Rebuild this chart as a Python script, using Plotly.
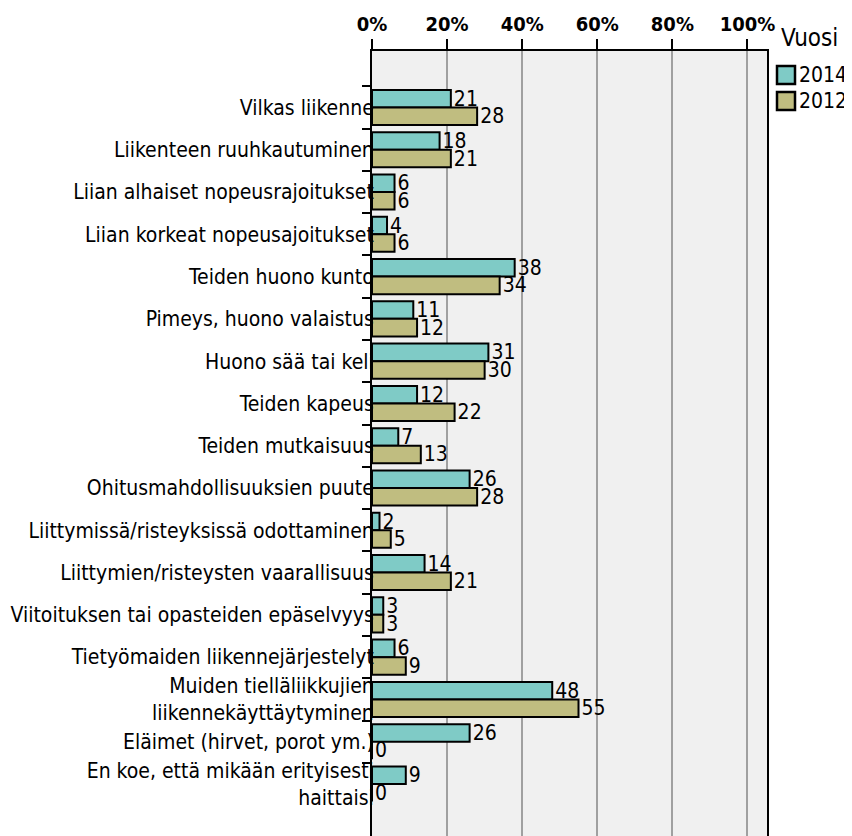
import plotly.graph_objects as go

categories = [
    "Vilkas liikenne",
    "Liikenteen ruuhkautuminen",
    "Liian alhaiset nopeusrajoitukset",
    "Liian korkeat nopeusajoitukset",
    "Teiden huono kunto",
    "Pimeys, huono valaistus",
    "Huono sää tai keli",
    "Teiden kapeus",
    "Teiden mutkaisuus",
    "Ohitusmahdollisuuksien puute",
    "Liittymissä/risteyksissä odottaminen",
    "Liittymien/risteysten vaarallisuus",
    "Viitoituksen tai opasteiden epäselvyys",
    "Tietyömaiden liikennejärjestelyt",
    "Muiden tielläliikkujien<br>liikennekäyttäytyminen",
    "Eläimet (hirvet, porot ym.)",
    "En koe, että mikään erityisesti<br>haittaisi",
]
values_2014 = [21, 18, 6, 4, 38, 11, 31, 12, 7, 26, 2, 14, 3, 6, 48, 26, 9]
values_2012 = [28, 21, 6, 6, 34, 12, 30, 22, 13, 28, 5, 21, 3, 9, 55, 0, 0]
series_names = ["2014", "2012"]
series_colors = ["#7fcbc6", "#c0bd80"]
x_ticks = [0, 20, 40, 60, 80, 100]
x_ticktext = [f"{v}%" for v in x_ticks]

FONT = "DejaVu Sans Condensed, DejaVu Sans, sans-serif"

# page body has an 8px margin; figure occupies screen 8..852 x 8..836
OFF = 8
W, H = 852 - OFF, 836 - OFF
ML, MR, MT, MB = 372 - OFF, 85, 51 - OFF, 0
PW, PH = W - ML - MR, H - MT - MB


def px_x(screen_x):
    return (screen_x - OFF - ML) / PW


def px_y(screen_y):
    return (H - MB - (screen_y - OFF)) / PH


fig = go.Figure()
for name, vals, color in zip(series_names, [values_2014, values_2012], series_colors):
    fig.add_trace(go.Bar(
        y=categories, x=vals, name=name, orientation="h",
        marker=dict(color=color, line=dict(color="black", width=2)),
        text=[str(v) for v in vals], texttemplate="%{text}", textposition="outside",
        textfont=dict(size=21, color="black", family=FONT),
        constraintext="none", cliponaxis=False, showlegend=False,
        hoverinfo="x+y",
    ))

# custom legend (title + boxes + labels)
shapes = []
annotations = [dict(
    text="Vuosi", xref="paper", yref="paper", x=px_x(779), y=px_y(38),
    xanchor="left", yanchor="middle", showarrow=False,
    font=dict(size=24, family=FONT, color="black"),
)]
for i, (name, color) in enumerate(zip(series_names, series_colors)):
    top = 66 + i * 26
    shapes.append(dict(
        type="rect", xref="paper", yref="paper",
        x0=px_x(777), x1=px_x(795), y0=px_y(top), y1=px_y(top + 18),
        fillcolor=color, line=dict(color="black", width=2.5),
    ))
    annotations.append(dict(
        text=name, xref="paper", yref="paper", x=px_x(797), y=px_y(top + 9),
        xanchor="left", yanchor="middle", showarrow=False,
        font=dict(size=21, family=FONT, color="black"),
    ))

fig.update_layout(
    width=W, height=H,
    margin=dict(l=ML, r=MR, t=MT, b=MB, autoexpand=False),
    barmode="group", bargap=0.17, bargroupgap=0,
    plot_bgcolor="#f0f0f0", paper_bgcolor="white",
    font=dict(family=FONT, color="black"),
    showlegend=False,
    shapes=shapes, annotations=annotations,
    xaxis=dict(
        side="top", range=[0, 105.2], tickvals=x_ticks, ticktext=x_ticktext,
        showgrid=True, gridcolor="#a0a0a0", gridwidth=2,
        showline=True, linecolor="black", linewidth=2,
        ticks="outside", ticklen=10, tickwidth=2, tickcolor="black",
        tickfont=dict(size=20, family=FONT, weight="bold"),
        zeroline=False, fixedrange=True, automargin=False,
    ),
    yaxis=dict(
        range=[17.23, -1.335], type="category",
        showline=True, linecolor="black", linewidth=2, mirror=True,
        ticks="outside", ticklen=8, tickwidth=2, tickcolor="black",
        tickson="boundaries", showgrid=False, automargin=False,
        tickfont=dict(size=21), ticklabelstandoff=-8,
    ),
)

fig.write_html("out.html")
